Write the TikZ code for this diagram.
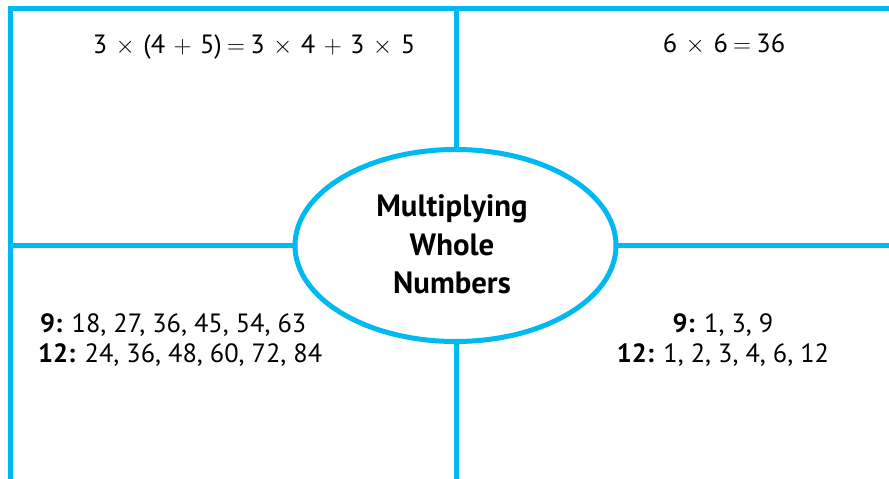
\documentclass[tikz,border=0pt]{standalone}
\usepackage{fontspec}
\setmainfont{PT Sans}
\usetikzlibrary{shapes.geometric}
\definecolor{cy}{RGB}{0,185,240}
\newcommand{\mtimes}{\hspace{0.32em}$\times$\hspace{0.32em}}
\newcommand{\mplus}{\hspace{0.32em}$+$\hspace{0.32em}}
\newcommand{\meq}{\hspace{0.2em}$=$\hspace{0.2em}}
\begin{document}
\begin{tikzpicture}[x=1pt,y=-1pt,
  rule/.style={draw=cy,line width=5pt},
  txt/.style={font=\fontsize{26.4}{31}\selectfont,inner sep=0pt,anchor=base},
  txtl/.style={txt,anchor=base west},
  title/.style={font=\fontsize{30.8}{38}\selectfont\bfseries,inner sep=0pt,anchor=base}]
\useasboundingbox (0,0) rectangle (889,479);
\coordinate (tr) at (889,8.5);
\coordinate (tl) at (10.5,8.5);
\coordinate (bl) at (10.5,479);
\coordinate (ct) at (456.5,8.5);
\coordinate (cb) at (456.5,479);
\coordinate (ml) at (10.5,245.5);
\coordinate (mr) at (889,245.5);
\draw[rule,line join=miter] (tr) -- (tl) -- (bl);
\draw[rule] (ct) -- (cb);
\draw[rule] (ml) -- (mr);
\node[ellipse,rule,fill=white,minimum width=321pt,minimum height=192pt,inner sep=0pt] (hub) at (455.5,245.5) {};
\node[title] (t1) at (452,216) {Multiplying};
\node[title] (t2) at (452,255) {Whole};
\node[title] (t3) at (452,293) {Numbers};
\node[txt] (q1) at (254,53) {3\mtimes(4\mplus5)\meq3\mtimes4\mplus3\mtimes5};
\node[txt] (q2) at (724,52) {6\mtimes6\meq36};
\node[txtl] (q3a) at (40,332) {\textbf{9:} 18, 27, 36, 45, 54, 63};
\node[txtl] (q3b) at (38,362) {\textbf{12:} 24, 36, 48, 60, 72, 84};
\node[txt] (q4a) at (723,332) {\textbf{9:} 1, 3, 9};
\node[txt] (q4b) at (723,362) {\textbf{12:} 1, 2, 3, 4, 6, 12};
\end{tikzpicture}
\end{document}
